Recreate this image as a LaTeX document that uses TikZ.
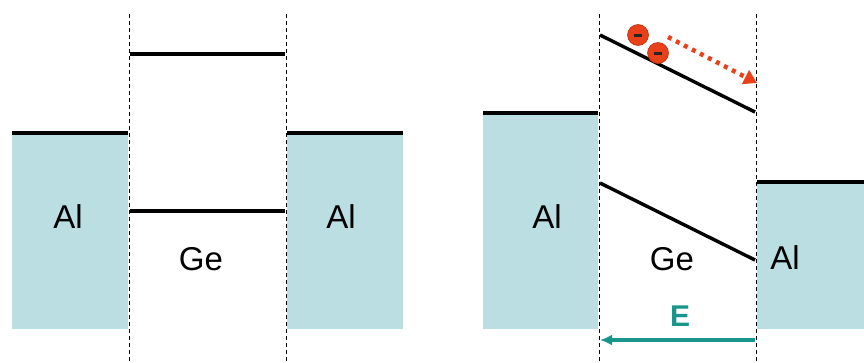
\documentclass[tikz,border=0pt]{standalone}
\usepackage{fontspec}
\setmainfont{Liberation Sans}
\usetikzlibrary{positioning,arrows.meta}
\definecolor{metal}{RGB}{186,222,226}
\definecolor{field}{RGB}{24,150,140}
\definecolor{elec}{RGB}{232,64,24}

\begin{document}
\begin{tikzpicture}[
    x=1pt, y=-1pt,
    metalbox/.style={fill=metal, draw=none},
    level/.style={draw, line width=3.4pt},
    iface/.style={draw, dash pattern=on 4pt off 3pt, line width=0.8pt},
    lbl/.style={font=\fontsize{33}{38}\selectfont},
    electron/.style={circle, fill=elec, draw=elec!80!black, line width=0.6pt, minimum size=21pt, inner sep=0pt},
    >={Latex[length=12pt,width=11pt]}
]
\useasboundingbox (0,0) rectangle (864,362);

\def\bottom{329}

% left picture: no bias
\fill[metalbox] (12,133) rectangle (128,\bottom);
\fill[metalbox] (287,133) rectangle (403,\bottom);
\foreach \x in {129,286} {
  \draw[iface] (\x,14) -- (\x,362);
}
\draw[level] (12,133) -- (128,133);
\draw[level] (287,133) -- (403,133);
\draw[level] (130,54) -- (285,54);
\draw[level] (130,211) -- (285,211);
\node[lbl] (alA) at (68,217) {Al};
\node[lbl] (alB) at (341,217) {Al};
\node[lbl] (geA) at (201,259) {Ge};

% right picture: with applied field
\fill[metalbox] (483,113) rectangle (598,\bottom);
\fill[metalbox] (757,182) rectangle (864,\bottom);
\foreach \x in {599,756} {
  \draw[iface] (\x,14) -- (\x,362);
}
\draw[level] (483,113) -- (598,113);
\draw[level] (757,182) -- (864,182);
\draw[level] (600,35) -- (755,112);
\draw[level] (600,183) -- (755,260);
\node[lbl] (alC) at (547,217) {Al};
\node[lbl] (alD) at (785,258) {Al};
\node[lbl] (geB) at (672,259) {Ge};

% electrons drifting down the band
\node[electron] (e1) at (638,35) {};
\node[electron] (e2) at (658,53) {};
\foreach \e in {e1,e2} {
  \draw[line width=3pt, black!85] ([xshift=-4pt]\e.center) -- ([xshift=4pt]\e.center);
}
\coordinate (dstart) at (668,37);
\coordinate (dend) at (757,83);
\draw[elec, line width=4.5pt, dash pattern=on 4pt off 5pt, -{Triangle[length=13pt,width=15pt]}] (dstart) -- (dend);

% field arrow
\coordinate (fR) at (755,340);
\coordinate (fL) at (600,340);
\draw[field, line width=3.2pt, ->] (fR) -- (fL);
\node[font=\fontsize{30}{34}\selectfont\bfseries, text=field] (efield) at (680,316) {E};

\end{tikzpicture}
\end{document}
